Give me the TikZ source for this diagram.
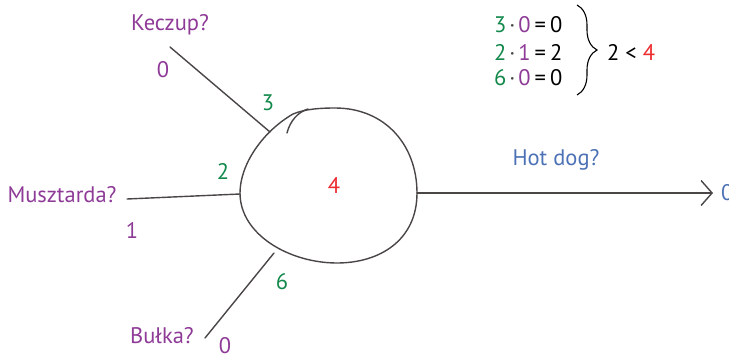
\documentclass[tikz,border=0pt]{standalone}
\usepackage{fontspec}
\setmainfont{PT Sans}
\usetikzlibrary{arrows.meta,decorations.pathreplacing}
\definecolor{purp}{HTML}{8E3A97}
\definecolor{grn}{HTML}{12894B}
\definecolor{rd}{HTML}{EC2B2F}
\definecolor{blu}{HTML}{4C72B5}
\definecolor{ink}{HTML}{4A4646}
\begin{document}
\begin{tikzpicture}[x=1pt,y=-1pt,
  lbl/.style={inner sep=0pt,font=\fontsize{22.5}{26}\selectfont},
  wire/.style={draw=ink,line width=1.4pt,line cap=round}]
\useasboundingbox (0,0) rectangle (729,356);
% neuron body
\draw[wire,line join=round] (335,108) .. controls (385,108) and (417,145) .. (417,193)
  .. controls (417,240) and (380,263) .. (337,263)
  .. controls (290,263) and (240,235) .. (240,193)
  .. controls (240,165) and (262,132) .. (293,114)
  .. controls (305,109) and (320,108) .. (335,108);
\draw[wire] (308,109) .. controls (298,112) and (290,121) .. (287,133);
% contact coordinates
\coordinate (cK) at (270,132);
\coordinate (cM) at (240,194);
\coordinate (cB) at (274,253);
\coordinate (cO) at (417,193);
\coordinate (kEnd) at (170,47);
\coordinate (mEnd) at (127,199);
\coordinate (bEnd) at (205,338);
\coordinate (oEnd) at (713,193);
\draw[wire] (kEnd) -- (cK);
\draw[wire] (mEnd) -- (cM);
\draw[wire] (bEnd) -- (cB);
\draw[wire,-{Straight Barb[length=11pt,width=25pt,line width=1.4pt]}] (cO) -- (oEnd);
% labels
\node[lbl,text=purp] (keczup) at (170,25) {Keczup?};
\node[lbl,text=purp] (k0) at (163,70) {0};
\node[lbl,text=grn] (w3) at (268,103) {3};
\node[lbl,text=purp] (musz) at (62,195) {Musztarda?};
\node[lbl,text=purp] (m1) at (132,230) {1};
\node[lbl,text=grn] (w2) at (223,171) {2};
\node[lbl,text=purp] (bulka) at (162,336) {Bułka?};
\node[lbl,text=purp] (b0) at (225,346) {0};
\node[lbl,text=grn] (w6) at (282,282) {6};
\node[lbl,text=rd] (thr) at (334,186) {4};
\node[lbl,text=blu] (hotdog) at (556,160) {Hot dog?};
\node[lbl,text=blu,anchor=west] (out0) at (721,193) {0};
% equations
\node[lbl,anchor=west] (e1) at (494,25) {\textcolor{grn}{3}\kern3pt\textcolor{ink}{·}\kern3pt\textcolor{purp}{0}\kern4pt=\kern4pt0};
\node[lbl,anchor=west] (e2) at (494,52) {\textcolor{grn}{2}\kern3pt\textcolor{ink}{·}\kern3pt\textcolor{purp}{1}\kern4pt=\kern4pt2};
\node[lbl,anchor=west] (e3) at (494,78) {\textcolor{grn}{6}\kern3pt\textcolor{ink}{·}\kern3pt\textcolor{purp}{0}\kern4pt=\kern4pt0};
\coordinate (brT) at (577,5);
\coordinate (brB) at (577,95);
\draw[draw=black,line width=1.1pt,decorate,decoration={brace,amplitude=20pt}] (brT) -- (brB);
\node[lbl,anchor=west] (cmp) at (607,52) {2 < \textcolor{rd}{4}};
\end{tikzpicture}
\end{document}
